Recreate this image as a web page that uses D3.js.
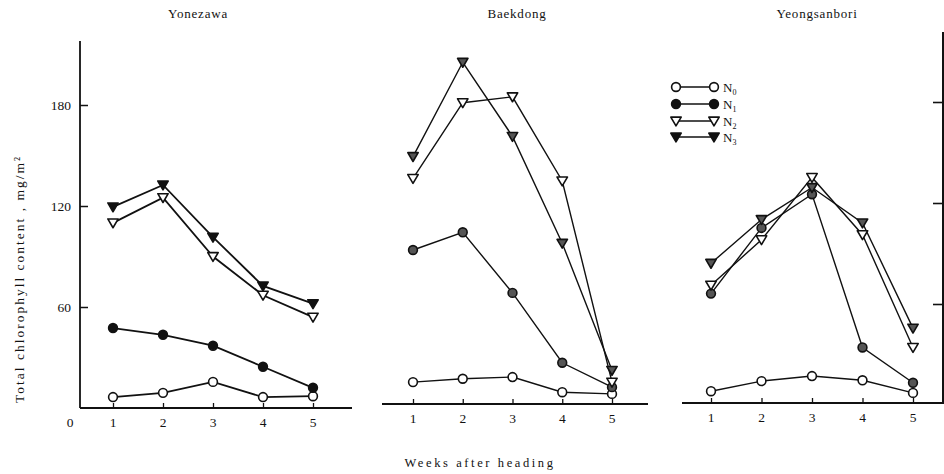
<!DOCTYPE html>
<html>
<head>
<meta charset="utf-8">
<script src="https://cdn.jsdelivr.net/npm/d3@7"></script>
<style>
  html, body { margin: 0; padding: 0; background: #fff; }
  svg { display: block; }
  text { font-family: "Liberation Serif", "DejaVu Serif", serif; fill: #111; }
</style>
</head>
<body>
<svg id="chart" width="944" height="474"></svg>
<script>
// Chlorophyll content per site, weeks after heading, four nitrogen levels
const weeks = [1, 2, 3, 4, 5];
const sites = ["Yonezawa", "Baekdong", "Yeongsanbori"];
const nLevels = ["N0", "N1", "N2", "N3"];
const yTicks = [60, 120, 180];

const yonezawaN0 = [6.5, 9, 15.5, 6.5, 7];
const yonezawaN1 = [47.5, 43.5, 37, 24.5, 12];
const yonezawaN2 = [110, 125, 90, 67, 54];
const yonezawaN3 = [119.5, 132.5, 101.5, 72.5, 62];

const baekdongN0 = [13, 15, 16, 7, 6];
const baekdongN1 = [91.5, 102, 66, 24.5, 10];
const baekdongN2 = [134, 179, 182.5, 132.5, 13];
const baekdongN3 = [147, 203, 159, 95.5, 20];

const yeongsanN0 = [7, 13, 16, 13.5, 6];
const yeongsanN1 = [65, 104, 124, 33, 12];
const yeongsanN2 = [70, 97, 134, 100, 33];
const yeongsanN3 = [83, 109, 128, 107, 44.5];

const siteSeries = [
  [yonezawaN0, yonezawaN1, yonezawaN2, yonezawaN3],
  [baekdongN0, baekdongN1, baekdongN2, baekdongN3],
  [yeongsanN0, yeongsanN1, yeongsanN2, yeongsanN3]
];

const svg = d3.select("#chart");

// Panel geometry: x range for weeks 1..5, axis extent, and baseline
const panels = [
  { x1: 113, x5: 313, axL: 80, axR: 352, base: 408, top: 105, titleX: 198 },
  { x1: 413, x5: 612, axL: 382, axR: 648, base: 404, top: 101, titleX: 517 },
  { x1: 711, x5: 913, axL: 682, axR: 944, base: 403, top: 100, titleX: 817 }
];

// Marker shape per nitrogen level
const markerKind = [
  { shape: "circle", filled: false },
  { shape: "circle", filled: true },
  { shape: "triangle", filled: false },
  { shape: "triangle", filled: true }
];

function drawMarker(g, cx, cy, kind, fillColor) {
  if (kind.shape === "circle") {
    g.append("circle")
      .attr("cx", cx).attr("cy", cy).attr("r", 4.4)
      .attr("fill", kind.filled ? fillColor : "#fff")
      .attr("stroke", "#111").attr("stroke-width", 1.6);
  } else {
    const s = 5.2;
    g.append("path")
      .attr("d", `M${cx - s},${cy - s * 0.75} L${cx + s},${cy - s * 0.75} L${cx},${cy + s * 0.95} Z`)
      .attr("fill", kind.filled ? fillColor : "#fff")
      .attr("stroke", "#111").attr("stroke-width", 1.6)
      .attr("stroke-linejoin", "round");
  }
}

panels.forEach((p, i) => {
  const x = d3.scaleLinear().domain([1, 5]).range([p.x1, p.x5]);
  const y = d3.scaleLinear().domain([0, 180]).range([p.base, p.top]);
  const g = svg.append("g");

  // Title
  g.append("text")
    .attr("x", p.titleX).attr("y", 18)
    .attr("text-anchor", "middle")
    .attr("font-size", 13)
    .attr("letter-spacing", 0.8)
    .text(sites[i]);

  // Baseline (x axis)
  g.append("line")
    .attr("x1", p.axL).attr("x2", p.axR)
    .attr("y1", p.base).attr("y2", p.base)
    .attr("stroke", "#111").attr("stroke-width", 1.8);

  // Week ticks and labels
  const xAxis = d3.axisTop(x).tickValues(weeks).tickSize(5).tickFormat("");
  const xg = g.append("g").attr("transform", `translate(0,${p.base})`).call(xAxis);
  xg.select(".domain").remove();
  xg.selectAll("line").attr("stroke", "#111").attr("stroke-width", 1.3);

  g.selectAll(".wk").data(weeks).enter().append("text")
    .attr("x", d => x(d)).attr("y", p.base + 19)
    .attr("text-anchor", "middle")
    .attr("font-size", 13.5)
    .text(d => d);

  if (i === 0) {
    const yAxis = d3.axisRight(y).tickValues(yTicks).tickSize(8).tickFormat("");
    const yg = g.append("g").attr("transform", `translate(${p.axL},0)`).call(yAxis);
    yg.select(".domain").remove();
    yg.selectAll("line").attr("stroke", "#111").attr("stroke-width", 1.5);
    g.append("line")
      .attr("x1", p.axL).attr("x2", p.axL)
      .attr("y1", y(218)).attr("y2", p.base)
      .attr("stroke", "#111").attr("stroke-width", 1.8);
    g.selectAll(".yl").data(yTicks).enter().append("text")
      .attr("x", p.axL - 9).attr("y", d => y(d) + 4.5)
      .attr("text-anchor", "end")
      .attr("font-size", 13.5)
      .text(d => d);
    g.append("text")
      .attr("x", 70).attr("y", p.base + 19)
      .attr("text-anchor", "middle")
      .attr("font-size", 13.5)
      .text("0");
  }

  // Series lines and markers
  const line = d3.line().x((d, k) => x(weeks[k])).y(d => y(d));
  const fillColor = i === 0 ? "#111" : "#555";
  siteSeries[i].forEach((vals) => {
    g.append("path")
      .attr("d", line(vals))
      .attr("fill", "none")
      .attr("stroke", "#111")
      .attr("stroke-width", i === 0 ? 1.8 : 1.4);
  });
  siteSeries[i].forEach((vals, s) => {
    vals.forEach((v, k) => drawMarker(g, x(weeks[k]), y(v), markerKind[s], fillColor));
  });
});

// Edge of the next figure's vertical axis
{
  const y = d3.scaleLinear().domain([0, 180]).range([405, 102]);
  const g = svg.append("g");
  g.append("line")
    .attr("x1", 943).attr("x2", 943)
    .attr("y1", 32).attr("y2", 404)
    .attr("stroke", "#111").attr("stroke-width", 2);
  const rAxis = d3.axisLeft(y).tickValues(yTicks).tickSize(10).tickFormat("");
  const rg = g.append("g").attr("transform", "translate(943,0)").call(rAxis);
  rg.select(".domain").remove();
  rg.selectAll("line").attr("stroke", "#111").attr("stroke-width", 1.6);
}

// Legend
const legend = svg.append("g");
const legendRows = [87, 104, 121, 137];
nLevels.forEach((n, s) => {
  const yy = legendRows[s];
  legend.append("line")
    .attr("x1", 676).attr("x2", 714).attr("y1", yy).attr("y2", yy)
    .attr("stroke", "#111").attr("stroke-width", 1.6);
  drawMarker(legend, 676, yy, markerKind[s], "#111");
  drawMarker(legend, 714, yy, markerKind[s], "#111");
  const t = legend.append("text")
    .attr("x", 723).attr("y", yy + 4.5)
    .attr("font-size", 13);
  t.append("tspan").text("N");
  t.append("tspan").attr("font-size", 8).attr("dy", 3).text(n.slice(1));
});

// Axis titles
svg.append("text")
  .attr("transform", "translate(24,279) rotate(-90)")
  .attr("text-anchor", "middle")
  .attr("font-size", 13.5)
  .attr("letter-spacing", 2)
  .text("Total chlorophyll content , mg/m²");

svg.append("text")
  .attr("x", 480).attr("y", 467)
  .attr("text-anchor", "middle")
  .attr("font-size", 12.5)
  .attr("letter-spacing", 2.6)
  .text("Weeks after heading");
</script>
</body>
</html>
